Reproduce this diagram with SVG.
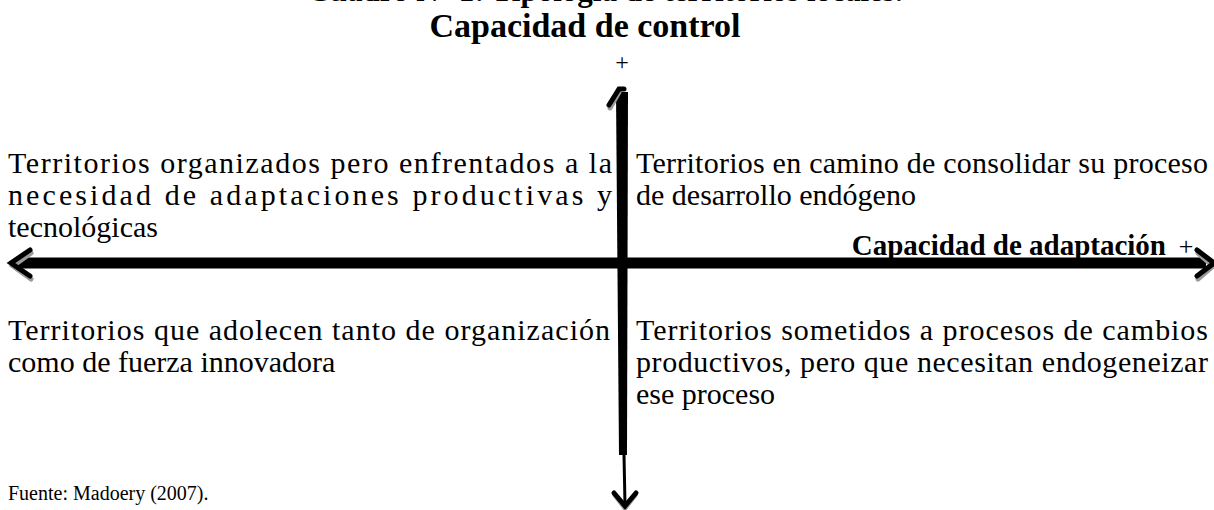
<svg xmlns="http://www.w3.org/2000/svg" width="1214" height="510" viewBox="0 0 1214 510">
<style>
.t{font-family:"Liberation Serif","Times New Roman",serif;font-size:30px;fill:#000}
.s{font-family:"Liberation Serif","Times New Roman",serif;font-size:20px;fill:#000}
.b{font-family:"Liberation Serif","Times New Roman",serif;font-weight:bold;fill:#000}
.ax{stroke:#000;fill:none;stroke-linecap:butt}
.hd{stroke:#000;fill:none;stroke-width:5;stroke-linecap:round;stroke-linejoin:miter}
.sh{stroke:#9a9a9a;fill:none;stroke-width:5;stroke-linecap:round;stroke-linejoin:miter}
</style>
<rect width="1214" height="510" fill="#fff"/>
<g id="title">
<text class="b" x="605" y="1" font-size="31" text-anchor="middle">Cuadro N° 1: Tipología de territorios locales.</text>
<text class="b" x="585" y="37" font-size="34" text-anchor="middle">Capacidad de control</text>
<text class="s" x="622" y="70" style="font-size:24px" text-anchor="middle">+</text>
</g>
<g id="connectors">
<line class="ax" x1="16" y1="263" x2="1206" y2="263" stroke-width="11"/>
<polyline class="sh" points="31,253 13,266 31,279"/>
<polyline class="hd" points="30,250 11,263 30,276"/>
<polyline class="sh" points="1198,253 1213,266 1198,279"/>
<polyline class="hd" points="1197,250 1214,263 1197,276"/>
<polygon points="616,92 628,92 627,455 619,455" fill="#000"/>
<line class="ax" x1="624" y1="455" x2="625" y2="505" stroke-width="3"/>
<polyline class="sh" points="610,108 619,92"/>
<polyline class="hd" points="609,105 619,89 624,89"/>
<polyline class="sh" points="615,495 625,508 635,495"/>
<polyline class="hd" points="614,493 625,506 636,493"/>
</g>
<g id="q1">
<text class="t" x="8" y="173" textLength="604" lengthAdjust="spacing">Territorios organizados pero enfrentados a la</text>
<text class="t" x="8" y="205" textLength="604" lengthAdjust="spacing">necesidad de adaptaciones productivas y</text>
<text class="t" x="8" y="237">tecnológicas</text>
</g>
<g id="q2">
<text class="t" x="636" y="173" textLength="572" lengthAdjust="spacing">Territorios en camino de consolidar su proceso</text>
<text class="t" x="636" y="205">de desarrollo endógeno</text>
</g>
<g id="xlabel">
<text class="b" x="1166" y="255" font-size="29" text-anchor="end">Capacidad de adaptación</text>
<text class="s" x="1186" y="255" style="font-size:26px" text-anchor="middle">+</text>
</g>
<g id="q3">
<text class="t" x="8" y="340" textLength="602" lengthAdjust="spacing">Territorios que adolecen tanto de organización</text>
<text class="t" x="8" y="372">como de fuerza innovadora</text>
</g>
<g id="q4">
<text class="t" x="636" y="340" textLength="572" lengthAdjust="spacing">Territorios sometidos a procesos de cambios</text>
<text class="t" x="636" y="372" textLength="572" lengthAdjust="spacing">productivos, pero que necesitan endogeneizar</text>
<text class="t" x="636" y="404">ese proceso</text>
</g>
<g id="source">
<text class="s" x="8" y="500">Fuente: Madoery (2007).</text>
</g>
</svg>
